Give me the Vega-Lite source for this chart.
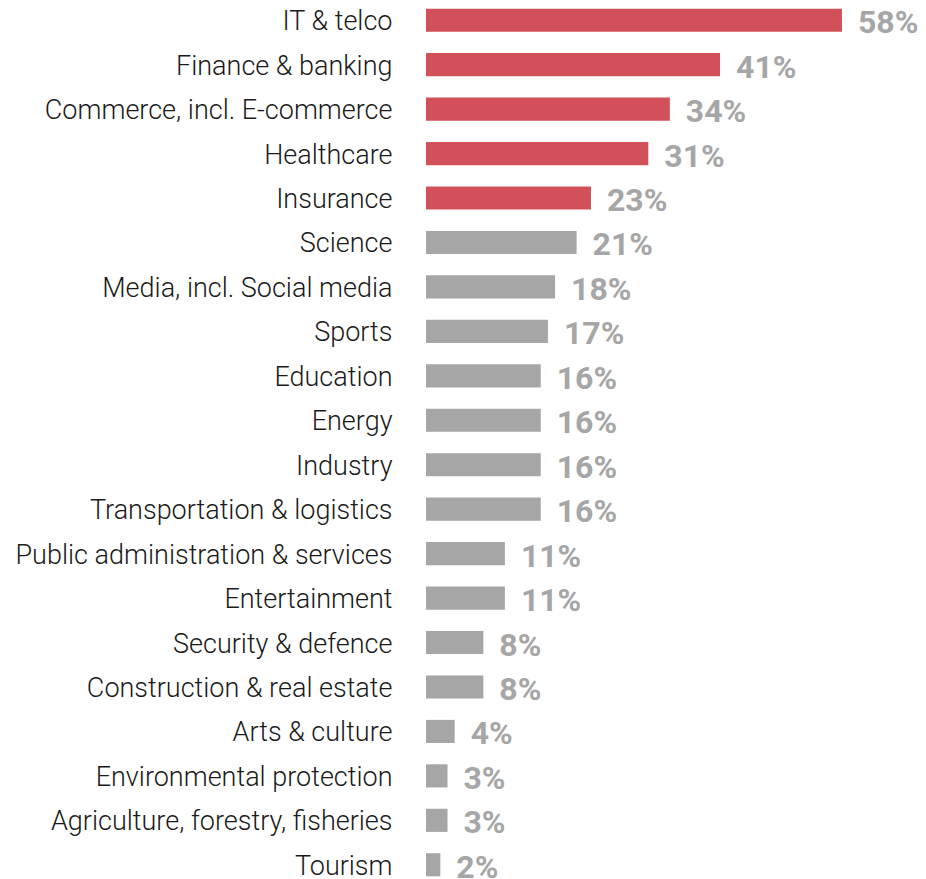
{
  "$schema": "https://vega.github.io/schema/vega-lite/v6.json",
  "width": 502,
  "height": {"step": 44.45},
  "autosize": "none",
  "padding": {"left": 426, "top": -2, "right": 0, "bottom": 0},
  "background": "white",
  "config": {"view": {"stroke": null}},
  "data": {"values": [
    {"sector": "IT & telco", "pct": 58, "label": "58%", "hl": "y"},
    {"sector": "Finance & banking", "pct": 41, "label": "41%", "hl": "y"},
    {"sector": "Commerce, incl. E-commerce", "pct": 34, "label": "34%", "hl": "y"},
    {"sector": "Healthcare", "pct": 31, "label": "31%", "hl": "y"},
    {"sector": "Insurance", "pct": 23, "label": "23%", "hl": "y"},
    {"sector": "Science", "pct": 21, "label": "21%", "hl": "n"},
    {"sector": "Media, incl. Social media", "pct": 18, "label": "18%", "hl": "n"},
    {"sector": "Sports", "pct": 17, "label": "17%", "hl": "n"},
    {"sector": "Education", "pct": 16, "label": "16%", "hl": "n"},
    {"sector": "Energy", "pct": 16, "label": "16%", "hl": "n"},
    {"sector": "Industry", "pct": 16, "label": "16%", "hl": "n"},
    {"sector": "Transportation & logistics", "pct": 16, "label": "16%", "hl": "n"},
    {"sector": "Public administration & services", "pct": 11, "label": "11%", "hl": "n"},
    {"sector": "Entertainment", "pct": 11, "label": "11%", "hl": "n"},
    {"sector": "Security & defence", "pct": 8, "label": "8%", "hl": "n"},
    {"sector": "Construction & real estate", "pct": 8, "label": "8%", "hl": "n"},
    {"sector": "Arts & culture", "pct": 4, "label": "4%", "hl": "n"},
    {"sector": "Environmental protection", "pct": 3, "label": "3%", "hl": "n"},
    {"sector": "Agriculture, forestry, fisheries", "pct": 3, "label": "3%", "hl": "n"},
    {"sector": "Tourism", "pct": 2, "label": "2%", "hl": "n"}
  ]},
  "encoding": {
    "y": {"field": "sector", "type": "nominal", "sort": null,
      "scale": {"paddingInner": 0.48, "paddingOuter": 0.24},
      "axis": {"title": null, "ticks": false, "domain": false, "labelPadding": 34, "labelOffset": 2,
        "labelFont": "Roboto", "labelFontWeight": 300, "labelFontSize": 27, "labelColor": "#1a1a1a", "labelLimit": 500}},
    "x": {"field": "pct", "type": "quantitative", "scale": {"domain": [0, 70]}, "axis": null}
  },
  "layer": [
    {"mark": {"type": "bar"},
     "encoding": {"color": {"field": "hl", "type": "nominal", "scale": {"domain": ["y", "n"], "range": ["#d1505a", "#a6a6a6"]}, "legend": null}}},
    {"mark": {"type": "text", "align": "left", "baseline": "middle", "dx": 16, "dy": 3, "font": "Roboto", "fontWeight": "bold", "fontSize": 32, "color": "#a6a6a6"},
     "encoding": {"text": {"field": "label", "type": "nominal"}}}
  ]
}
